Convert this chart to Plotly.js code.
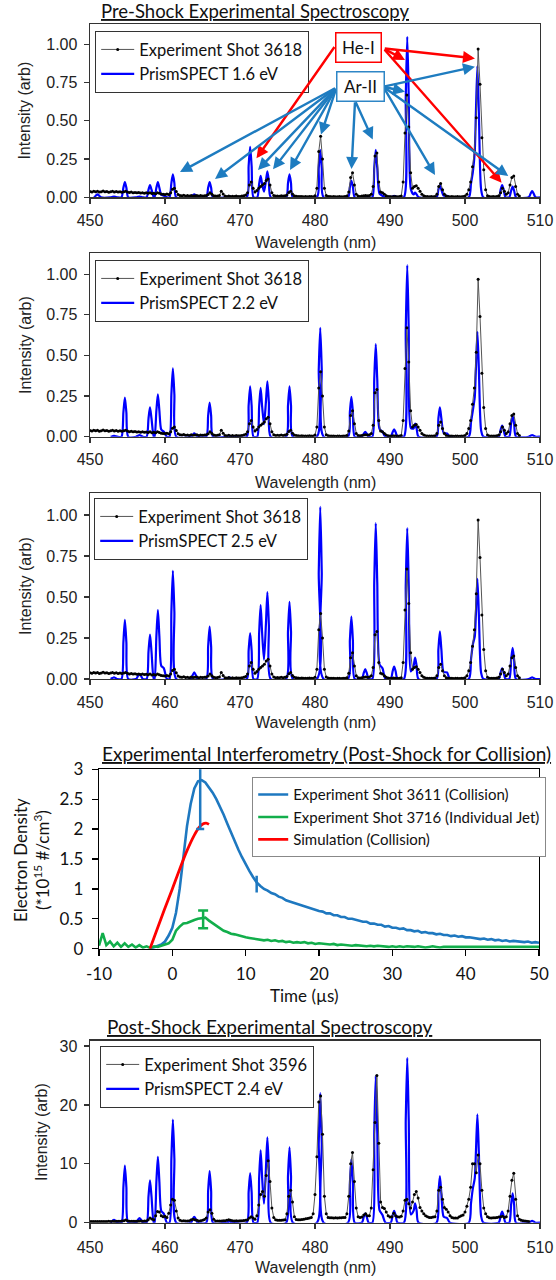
<!DOCTYPE html>
<html><head><meta charset="utf-8">
<script src="https://cdn.plot.ly/plotly-3.0.1.min.js"></script>
<style>html,body{margin:0;padding:0;background:#fff}#chart{width:556px;height:1280px}</style>
</head><body><div id="chart"></div>
<script>
// ---------------- DATA ----------------
const wlTicks = [450,460,470,480,490,500,510];
const intTicks = [0,0.25,0.5,0.75,1.0];
const postTicks = [0,10,20,30];
const timeTicks = [-10,0,10,20,30,40,50];
const timeTickText = ['-10','0','10','20','30','40','50'];
const densTicks = [0,0.5,1,1.5,2,2.5,3];

// PrismSPECT simulated spectra (shared wavelength grid, nm)
const simWl = [
  450.55,450.8,451.0,451.2,451.45,
  452.75,453.0,453.2,453.4,453.65,
  454.2,454.45,454.65,454.85,455.1,
  456.15,456.4,456.6,456.8,457.05,
  457.55,457.8,458.0,458.2,458.5,
  458.6,458.85,459.05,459.25,459.5,459.85,460.25,
  460.6,460.85,461.05,461.25,461.5,
  463.45,463.7,463.9,464.1,464.35,
  465.5,465.75,465.95,466.15,466.4,
  468.15,468.4,468.6,468.8,469.05,
  470.9,471.15,471.35,471.55,471.8,
  472.3,472.55,472.75,472.95,473.2,473.45,473.65,473.85,474.1,
  476.15,476.4,476.6,476.8,477.05,
  480.25,480.5,480.7,480.9,481.15,
  484.4,484.65,484.85,485.05,485.3,
  486.25,486.5,486.7,486.9,487.15,
  487.65,487.9,488.1,488.3,488.6,489.0,489.4,
  490.1,490.35,490.55,490.75,491.0,
  491.85,492.1,492.3,492.5,492.78,493.15,493.35,493.55,493.8,
  496.2,496.45,496.65,496.85,497.15,497.6,498.0,
  500.5,500.8,501.05,501.3,501.45,501.65,501.85,502.15,502.45,
  504.5,504.75,504.95,505.15,505.4,
  505.9,506.15,506.35,506.55,506.8,
  508.5,508.75,508.95,509.15,509.4,
  510.0
];
const sim16 = [
  0,0.012,0.02,0.012,0,
  0,0.003,0.005,0.003,0,
  0,0.062,0.10,0.062,0,
  0,0.003,0.005,0.003,0,
  0,0.05,0.08,0.05,0,
  0,0.062,0.10,0.062,0.016,0.01,0,
  0,0.093,0.15,0.093,0,
  0,0.012,0.02,0.012,0,
  0,0.062,0.10,0.062,0,
  0,0.003,0.005,0.003,0,
  0,0.205,0.33,0.205,0,
  0,0.087,0.14,0.087,0.037,0.105,0.17,0.105,0,
  0,0.093,0.15,0.093,0,
  0,0.192,0.31,0.192,0,
  0,0.068,0.11,0.068,0,
  0,0.006,0.01,0.006,0,
  0,0.192,0.31,0.192,0.024,0.01,0,
  0,0.006,0.01,0.006,0,
  0,0.651,1.05,0.651,0.053,0.019,0.03,0.019,0,
  0,0.05,0.08,0.05,0.011,0.01,0,
  0,0.09,0.167,0.299,0.55,0.86,0.55,0.052,0,
  0,0.05,0.08,0.05,0,
  0,0.043,0.07,0.043,0,
  0,0.025,0.04,0.025,0,
  0
];
const sim22 = [
  null,null,null,null,null,
  0,0.003,0.005,0.003,0,
  0,0.149,0.24,0.149,0,
  0,0.006,0.01,0.006,0,
  0,0.112,0.18,0.112,0,
  0,0.161,0.26,0.161,0.044,0.03,0,
  0,0.26,0.42,0.26,0,
  0,0.012,0.02,0.012,0,
  0,0.13,0.21,0.13,0,
  0,0.003,0.005,0.003,0,
  0,0.192,0.31,0.192,0,
  0,0.186,0.30,0.186,0.077,0.211,0.34,0.211,0,
  0,0.192,0.31,0.192,0,
  0,0.415,0.67,0.415,0,
  0,0.152,0.245,0.152,0,
  0,0.019,0.03,0.019,0,
  0,0.353,0.57,0.353,0.049,0.03,0,
  0,0.028,0.045,0.028,0,
  0,0.655,1.057,0.655,0.053,0.05,0.08,0.05,0,
  0,0.112,0.18,0.112,0.024,0.02,0,
  0,0.09,0.163,0.243,0.413,0.646,0.413,0.039,0,
  0,0.042,0.068,0.042,0,
  0,0.081,0.13,0.081,0,
  0,0.006,0.01,0.006,0,
  0
];
const sim25 = [
  null,null,null,null,null,
  0,0.006,0.01,0.006,0,
  0,0.223,0.36,0.223,0,
  0,0.019,0.03,0.019,0,
  0,0.167,0.27,0.167,0,
  0,0.26,0.42,0.26,0.081,0.065,0,
  0,0.409,0.66,0.409,0,
  0,0.025,0.04,0.025,0,
  0,0.198,0.32,0.198,0,
  0,0.006,0.01,0.006,0,
  0,0.174,0.28,0.174,0,
  0,0.279,0.45,0.279,0.118,0.329,0.53,0.329,0,
  0,0.291,0.47,0.291,0,
  0,0.651,1.05,0.651,0,
  0,0.236,0.38,0.236,0,
  0,0.037,0.06,0.037,0,
  0,0.589,0.95,0.589,0.09,0.065,0,
  0,0.047,0.075,0.047,0,
  0,0.57,0.92,0.57,0.046,0.081,0.13,0.081,0,
  0,0.18,0.29,0.18,0.043,0.04,0,
  0,0.12,0.212,0.259,0.39,0.61,0.39,0.037,0,
  0,0.04,0.065,0.04,0,
  0,0.118,0.19,0.118,0,
  0,0.006,0.01,0.006,0,
  0
];
const sim24 = [
  null,null,null,null,null,
  0,0.31,0.5,0.31,0,
  0,6.01,9.7,6.01,0,
  0,0.5,0.8,0.5,0,
  0,4.46,7.2,4.46,0,
  0,6.94,11.2,6.94,2.02,1.5,0,
  0,10.85,17.5,10.85,0,
  0,0.62,1.0,0.62,0,
  0,5.43,8.75,5.43,0,
  0,0.12,0.2,0.12,0,
  0,5.21,8.4,5.21,0,
  0,7.63,12.3,7.63,3.22,8.99,14.5,8.99,0,
  0,7.94,12.8,7.94,0,
  0,13.6,22,13.6,0,
  0,6.7,10.8,6.7,0,
  0,0.99,1.6,0.99,0,
  0,15.44,24.9,15.44,2.14,1.3,0,
  0,1.24,2.0,1.24,0,
  0,17.36,28.0,17.36,1.4,2.05,3.3,2.05,0,
  0,4.9,7.9,4.9,1.03,0.8,0,
  0,3.3,5.87,7.53,11.78,18.4,11.78,1.1,0,
  0,1.18,1.9,1.18,0,
  0,3.1,5.0,3.1,0,
  0,0.19,0.3,0.19,0,
  0
];

// Experiment shot 3618 (pre-shock), samples every 0.25 nm from 450 nm
const exp3618Start = 450, exp3618Step = 0.25;
const exp3618 = [
  0.038,0.035,0.040,0.036, 0.039,0.034,0.037,0.041, 0.036,0.038,0.033,0.037,
  0.040,0.035,0.038,0.034, 0.036,0.033,0.037,0.040, 0.035,0.031,0.034,0.030,
  0.032,0.029,0.031,0.028, 0.030,0.027,0.029,0.026, 0.030,0.025,0.027,0.024,
  0.030,0.026,0.022,0.020, 0.019,0.021,0.018,0.030, 0.052,0.060,0.038,0.018,
  0.012,0.010,0.013,0.009, 0.011,0.008,0.012,0.009, 0.010,0.012,0.008,0.011,
  0.009,0.010,0.012,0.018, 0.030,0.020,0.010,0.008, 0.009,0.012,0.040,0.022,
  0.008,0.006,0.009,0.005, 0.007,0.005,0.008,0.006, 0.006,0.008,0.010,0.015,
  0.030,0.080,0.100,0.060, 0.035,0.045,0.060,0.070, 0.080,0.090,0.110,0.120,
  0.080,0.030,0.012,0.008, 0.009,0.007,0.010,0.008, 0.010,0.015,0.032,0.040,
  0.022,0.010,0.007,0.006, 0.005,0.006,0.004,0.005, 0.004,0.006,0.005,0.004,
  0.010,0.060,0.300,0.400, 0.250,0.060,0.012,0.006, 0.005,0.004,0.005,0.003,
  0.004,0.005,0.003,0.004, 0.005,0.008,0.035,0.130, 0.160,0.080,0.020,0.008,
  0.006,0.008,0.010,0.012, 0.010,0.012,0.020,0.070, 0.270,0.290,0.100,0.035,
  0.030,0.020,0.010,0.006, 0.005,0.004,0.006,0.005, 0.004,0.005,0.008,0.100,
  0.420,0.670,0.460,0.160, 0.060,0.070,0.075,0.060, 0.040,0.020,0.010,0.006,
  0.005,0.004,0.005,0.004, 0.006,0.020,0.070,0.090, 0.050,0.020,0.008,0.005,
  0.004,0.005,0.003,0.004, 0.005,0.003,0.004,0.005, 0.008,0.020,0.050,0.100,
  0.200,0.300,0.520,0.970, 0.740,0.390,0.180,0.050, 0.010,0.005,0.004,0.005,
  0.004,0.006,0.010,0.030, 0.060,0.040,0.020,0.030, 0.080,0.130,0.140,0.070,
  0.020,0.008
];

// Experiment shot 3596 (post-shock), samples every 0.25 nm from 450 nm
const exp3596Start = 450, exp3596Step = 0.25;
const exp3596 = [
  0.20,0.22,0.20,0.21, 0.20,0.22,0.21,0.20, 0.22,0.21,0.23,0.22, 0.24,0.22,0.25,0.24,
  0.25,0.27,0.32,0.45, 0.35,0.26,0.24,0.25, 0.24,0.26,0.25,0.27, 0.26,0.28,0.30,0.50,
  0.80,0.62,0.50,1.20, 1.90,1.80,1.20,1.00, 1.10,0.90,1.60,3.00, 4.00,3.80,2.00,0.80,
  0.40,0.30,0.32,0.30, 0.30,0.35,0.50,0.60, 0.50,0.40,0.30,0.32, 0.40,0.55,0.80,1.80,
  2.20,1.60,0.60,0.30, 0.30,0.28,0.30,0.32, 0.35,0.42,0.50,0.40, 0.32,0.30,0.31,0.30,
  0.32,0.35,0.38,0.42, 0.50,0.80,1.00,0.80, 0.60,1.20,3.00,4.80, 5.30,4.50,8.00,10.50,
  7.00,2.50,0.90,0.50, 0.42,0.40,0.42,0.45, 0.50,1.50,4.50,5.50, 3.50,1.00,0.55,0.50,
  0.50,0.55,0.60,0.65, 0.70,0.80,0.90,1.50, 4.80,11.20,20.50,21.50, 15.00,4.50,1.50,0.90,
  0.85,0.82,0.80,0.82, 0.80,0.82,0.85,0.88, 0.90,1.50,4.50,10.00, 11.90,7.00,2.50,1.00,
  0.90,0.95,1.30,1.50, 1.20,1.20,2.50,9.00, 17.00,25.00,13.50,3.50, 2.60,2.40,1.80,1.20,
  0.95,1.00,1.60,1.20, 1.00,0.95,1.10,2.00, 3.80,4.00,3.20,2.50, 3.50,4.80,5.30,4.20,
  2.60,2.00,1.50,1.20, 1.00,0.90,0.90,0.95, 1.00,2.00,5.50,6.00, 4.00,2.60,2.30,1.80,
  1.20,0.90,0.80,0.80, 0.80,1.00,1.20,1.30, 1.80,2.80,4.00,6.00, 10.00,10.00,8.50,11.50,
  10.00,5.50,2.50,1.50, 1.00,0.85,0.80,0.82, 0.85,0.90,0.95,1.00, 1.10,0.90,1.00,2.00,
  4.50,7.20,8.40,4.00, 1.20,0.60,0.40,0.35, 0.30,0.25,0.20
];

// Interferometry, electron density (*1e15 /cm^3)
const shot3611Start = -3, shot3611Step = 0.5;
const shot3611 = [
  0.00,0.02,0.04,0.07,0.12,0.22,0.35,0.60,1.00,1.55,
  2.05,2.42,2.68,2.80,2.82,2.78,2.70,2.61,2.50,2.38,
  2.24,2.09,1.94,1.80,1.66,1.53,1.41,1.30,1.20,1.11,
  1.05,1.00,0.97,0.93,0.91,0.87,0.85,0.81,0.79,0.77,
  0.74,0.73,0.70,0.69,0.66,0.65,0.63,0.62,0.59,0.59,
  0.56,0.56,0.53,0.53,0.50,0.50,0.48,0.47,0.45,0.45,
  0.42,0.42,0.40,0.40,0.37,0.38,0.35,0.35,0.33,0.34,
  0.31,0.31,0.29,0.30,0.27,0.28,0.26,0.26,0.24,0.25,
  0.23,0.23,0.21,0.22,0.20,0.21,0.19,0.19,0.18,0.18,
  0.16,0.17,0.15,0.16,0.14,0.15,0.13,0.14,0.12,0.13,
  0.12,0.12,0.11,0.12,0.10,0.11,0.10
];
const shot3716Start = -10, shot3716Step = 0.5;
const shot3716 = [
  0.05,0.26,0.06,0.12,0.04,0.10,0.03,0.09,0.03,0.07,
  0.02,0.06,0.02,0.04,0.01,0.04,0.03,0.05,0.06,0.09,
  0.15,0.30,0.37,0.42,0.43,0.46,0.48,0.50,0.51,0.52,
  0.47,0.43,0.38,0.34,0.30,0.28,0.25,0.24,0.22,0.21,
  0.19,0.18,0.17,0.16,0.16,0.14,0.15,0.13,0.14,0.12,
  0.13,0.11,0.12,0.10,0.11,0.10,0.11,0.09,0.10,0.08,
  0.09,0.08,0.08,0.07,0.08,0.06,0.07,0.06,0.06,0.05,
  0.06,0.05,0.05,0.04,0.05,0.04,0.05,0.04,0.04,0.03,
  0.04,0.03,0.04,0.03,0.04,0.03,0.03,0.04,0.03,0.02,
  0.03,0.04,0.03,0.02,0.03,0.03,0.02,0.03,0.03,0.02,
  0.03,0.03,0.02,0.03,0.03,0.02,0.03,0.02,0.03,0.03,
  0.02,0.03,0.03,0.02,0.03,0.03,0.02,0.03,0.03,0.02,
  0.03
];
const simTime = [-3.05,-2,-1,0,1,2,3,3.6,4.1,4.6,5.0];
const simDens = [0,0.35,0.68,1.0,1.33,1.64,1.9,2.02,2.08,2.1,2.08];
// error bars: time, value, +/- error
const errPeak3611 = {t:[3.8], n:[2.8], e:[0.8]};
const errTail3611 = {t:[11.5], n:[1.08], e:[0.14]};
const err3716 = {t:[4.2], n:[0.49], e:[0.15]};

// ---------------- LAYOUT HELPERS ----------------
const W = 556, H = 1280;
const fx = p => p / W;
const fy = p => 1 - p / H;
const SF = 'Liberation Sans, Arial, sans-serif';
const CF = 'Lato, Carlito, Calibri, sans-serif';
const BLUE = '#0000ff', EXPC = '#000000';
const IB = '#1e78c0', IG = '#12ae4b', IR = '#ff0000';

function specX(anchor, standoff) {
  return {domain:[fx(90), fx(540)], range:[450,510], anchor, tickvals:wlTicks,
    ticks:'outside', ticklen:5, tickwidth:1.2, tickcolor:'#333',
    showline:true, mirror:true, linecolor:'#333', linewidth:1.4,
    showgrid:false, zeroline:false, ticklabelstandoff:standoff,
    tickfont:{family:SF, size:16, color:'#222'}};
}
function specY(anchor, top, bot, maxV, tv, fmt) {
  return {domain:[fy(bot), fy(top)], range:[0,maxV], anchor, tickvals:tv, tickformat:fmt,
    ticks:'outside', ticklen:5, tickwidth:1.2, tickcolor:'#333',
    showline:true, mirror:true, linecolor:'#333', linewidth:1.4,
    showgrid:false, zeroline:false, ticklabelstandoff:3,
    tickfont:{family:SF, size:16, color:'#222'}};
}
function legendAt(x, y, size, border, iw) {
  return {x:fx(x), y:fy(y), xanchor:'left', yanchor:'top', bgcolor:'#fff',
    bordercolor:border, borderwidth:1.2, font:{family:CF, size:size, color:'#111'},
    traceorder:'reversed', itemwidth:iw || 33};
}
function simTrace(y, name, xa, ya, leg) {
  return {x:simWl, y, name, type:'scatter', mode:'lines', xaxis:xa, yaxis:ya, legend:leg,
    line:{color:BLUE, width:2.2, shape:'spline', smoothing:0.7}, connectgaps:false};
}
function expTrace(y, x0, dx, name, xa, ya, leg) {
  return {y, x0, dx, name, type:'scatter', mode:'lines+markers', xaxis:xa, yaxis:ya, legend:leg,
    line:{color:'#555', width:1}, marker:{color:EXPC, size:3}};
}
function arrow(tip, tail, color) {
  return {xref:'x', yref:'y', axref:'x', ayref:'y', x:tip[0], y:tip[1], ax:tail[0], ay:tail[1],
    text:'', showarrow:true, arrowhead:2, arrowsize:1, arrowwidth:2.4, arrowcolor:color, standoff:0};
}
function paperText(text, x, y, font, angle) {
  return {xref:'paper', yref:'paper', x:fx(x), y:fy(y), xanchor:'center', yanchor:'middle',
    text, showarrow:false, font, textangle:angle || 0};
}
function errTrace(e, color, w) {
  return {x:e.t, y:e.n, type:'scatter', mode:'markers', xaxis:'x4', yaxis:'y4', showlegend:false,
    marker:{size:1, color}, error_y:{type:'data', array:e.e, visible:true, color, thickness:2.5, width:w}};
}

// ---------------- TRACES ----------------
const data = [
  simTrace(sim16, 'PrismSPECT 1.6 eV', 'x', 'y', 'legend'),
  expTrace(exp3618, exp3618Start, exp3618Step, 'Experiment Shot 3618', 'x', 'y', 'legend'),
  simTrace(sim22, 'PrismSPECT 2.2 eV', 'x2', 'y2', 'legend2'),
  expTrace(exp3618, exp3618Start, exp3618Step, 'Experiment Shot 3618', 'x2', 'y2', 'legend2'),
  simTrace(sim25, 'PrismSPECT 2.5 eV', 'x3', 'y3', 'legend3'),
  expTrace(exp3618, exp3618Start, exp3618Step, 'Experiment Shot 3618', 'x3', 'y3', 'legend3'),
  {y:shot3611, x0:shot3611Start, dx:shot3611Step, name:'Experiment Shot 3611 (Collision)', type:'scatter', mode:'lines',
    xaxis:'x4', yaxis:'y4', legend:'legend4', line:{color:IB, width:2.6}},
  {y:shot3716, x0:shot3716Start, dx:shot3716Step, name:'Experiment Shot 3716 (Individual Jet)', type:'scatter', mode:'lines',
    xaxis:'x4', yaxis:'y4', legend:'legend4', line:{color:IG, width:2.6}},
  {x:simTime, y:simDens, name:'Simulation (Collision)', type:'scatter', mode:'lines',
    xaxis:'x4', yaxis:'y4', legend:'legend4', line:{color:IR, width:2.8, shape:'spline'}},
  errTrace(errPeak3611, IB, 4),
  errTrace(errTail3611, IB, 0),
  errTrace(err3716, IG, 5),
  simTrace(sim24, 'PrismSPECT 2.4 eV', 'x5', 'y5', 'legend5'),
  expTrace(exp3596, exp3596Start, exp3596Step, 'Experiment Shot 3596', 'x5', 'y5', 'legend5')
];

// ---------------- ANNOTATIONS ----------------
const axFont = {family:SF, size:16, color:'#222'};
const RED = '#ff0000', ARB = '#1e7cc0';
const heTail1 = [482.73, 0.993], heTail2 = [489.1, 0.975];
const arRight = [489.1, 0.724], arLeft = [482.87, 0.719], arBottom = [485.34, 0.631];
const annotations = [
  arrow([472.2, 0.255], heTail1, RED),
  arrow([492.0, 0.898], heTail2, RED),
  arrow([501.33, 0.909], heTail2, RED),
  arrow([504.89, 0.096], heTail2, RED),
  arrow([501.33, 0.855], arRight, ARB),
  arrow([492.0, 0.691], arRight, ARB),
  arrow([496.0, 0.146], arRight, ARB),
  arrow([505.77, 0.139], arRight, ARB),
  arrow([462.0, 0.165], arLeft, ARB),
  arrow([466.67, 0.12], arLeft, ARB),
  arrow([472.4, 0.179], arLeft, ARB),
  arrow([474.4, 0.183], arLeft, ARB),
  arrow([476.67, 0.179], arLeft, ARB),
  arrow([480.8, 0.411], arLeft, ARB),
  arrow([484.87, 0.185], arBottom, ARB),
  arrow([487.7, 0.378], arBottom, ARB),
  {xref:'x', yref:'y', x:485.85, y:0.98, text:'He-I', showarrow:false, bgcolor:'#fff',
    bordercolor:RED, borderwidth:1.5, borderpad:1, width:42, height:26, font:{family:CF, size:17, color:'#111'}},
  {xref:'x', yref:'y', x:486.0, y:0.722, text:'Ar-II', showarrow:false, bgcolor:'#fff',
    bordercolor:'#2e86c6', borderwidth:1.5, borderpad:1, width:44, height:26, font:{family:CF, size:17, color:'#111'}},
  paperText('<u>Pre-Shock Experimental Spectroscopy</u>', 255, 11, {family:CF, size:18.5, color:'#111'}),
  paperText('<u>Experimental Interferometry (Post-Shock for Collision)</u>', 326, 753, {family:CF, size:19, color:'#111'}),
  paperText('<u>Post-Shock Experimental Spectroscopy</u>', 269, 1026, {family:CF, size:19, color:'#111'}),
  paperText('Wavelength (nm)', 315, 242, axFont),
  paperText('Wavelength (nm)', 315, 482, axFont),
  paperText('Wavelength (nm)', 315, 722, axFont),
  paperText('Wavelength (nm)', 315, 1267, axFont),
  paperText('Intensity (arb)', 25, 110.6, axFont, -90),
  paperText('Intensity (arb)', 25, 345, axFont, -90),
  paperText('Intensity (arb)', 25, 586, axFont, -90),
  paperText('Intensity (arb)', 41, 1132, axFont, -90),
  paperText('Electron Density<br>(*10<sup>15</sup> #/cm<sup>3</sup>)', 31, 860, {family:CF, size:17, color:'#111'}, -90),
  paperText('Time (µs)', 304, 995, {family:CF, size:17, color:'#111'})
];

const layout = {
  width:W, height:H, margin:{l:0, r:0, t:0, b:0},
  paper_bgcolor:'#fff', plot_bgcolor:'#fff', showlegend:true,
  xaxis: specX('y', 3), yaxis: specY('x', 24, 197.3, 1.134, intTicks, '.2f'),
  xaxis2: specX('y2', 3), yaxis2: specY('x2', 253.3, 436.7, 1.129, intTicks, '.2f'),
  xaxis3: specX('y3', 3), yaxis3: specY('x3', 493.3, 679, 1.132, intTicks, '.2f'),
  xaxis4: {domain:[fx(99), fx(539)], range:[-10,50], anchor:'y4', tickvals:timeTicks, ticktext:timeTickText,
    ticks:'outside', ticklen:6, tickwidth:1.2, tickcolor:'#000', showline:true, mirror:true,
    linecolor:'#000', linewidth:1.3, showgrid:false, zeroline:false, ticklabelstandoff:4,
    tickfont:{family:CF, size:17, color:'#111'}},
  yaxis4: {domain:[fy(948.7), fy(769.3)], range:[0,3], anchor:'x4', tickvals:densTicks,
    ticks:'outside', ticklen:6, tickwidth:1.2, tickcolor:'#000', showline:true, mirror:true,
    linecolor:'#000', linewidth:1.3, showgrid:false, zeroline:false, ticklabelstandoff:5,
    tickfont:{family:CF, size:17, color:'#111'}},
  xaxis5: specX('y5', 5), yaxis5: specY('x5', 1040.7, 1222.7, 30.9, postTicks, 'd'),
  legend: legendAt(95, 31, 16.5, '#333'),
  legend2: legendAt(95, 260, 16.5, '#333'),
  legend3: legendAt(94, 498, 16.5, '#333'),
  legend4: Object.assign(legendAt(252, 777, 15, '#888', 24), {traceorder:'normal'}),
  legend5: legendAt(100, 1046, 16.5, '#333'),
  annotations
};

Plotly.newPlot('chart', data, layout, {staticPlot:true, displayModeBar:false});
</script></body></html>
